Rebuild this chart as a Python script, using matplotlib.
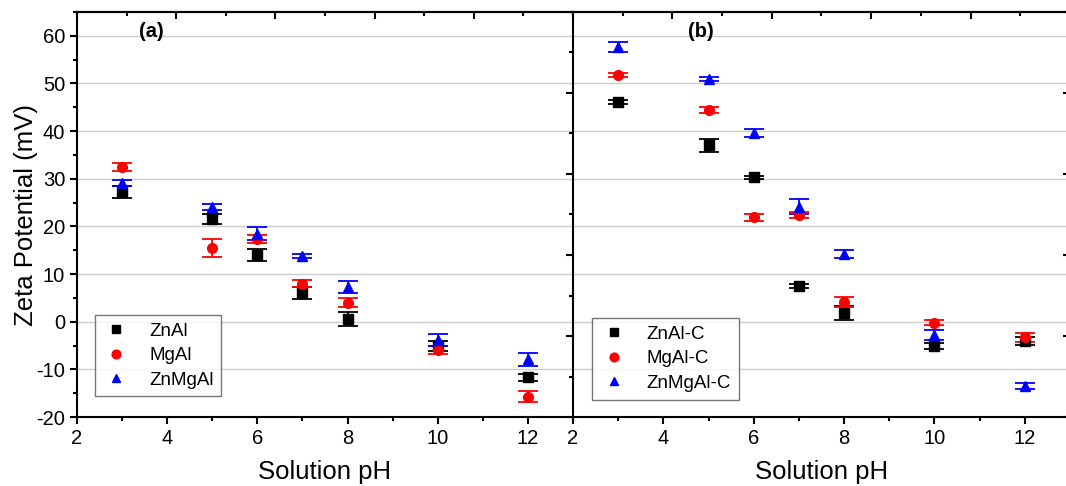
import matplotlib
matplotlib.use("Agg")
import matplotlib.pyplot as plt
import numpy as np

plt.rcParams['font.family'] = ['Liberation Sans', 'DejaVu Sans']
plt.rcParams['axes.unicode_minus'] = False

ph = [3, 5, 6, 7, 8, 10, 12]

# Panel (a)
znal = [27.2, 21.5, 14.0, 6.0, 0.5, -5.1, -11.7]
znal_err = [1.2, 1.0, 1.2, 1.3, 1.5, 1.0, 0.8]
mgal = [32.5, 15.4, 17.4, 8.0, 4.0, -5.9, -15.7]
mgal_err = [0.8, 1.9, 0.8, 0.7, 1.0, 0.8, 1.2]
znmgal = [29.1, 24.0, 18.5, 13.8, 7.3, -3.8, -7.9]
znmgal_err = [0.7, 0.6, 1.3, 0.5, 1.2, 1.3, 1.3]

# Panel (b)
znalc = [46.1, 37.0, 30.3, 7.5, 1.8, -5.1, -4.0]
znalc_err = [0.5, 1.3, 0.3, 0.5, 1.4, 0.6, 0.8]
mgalc = [51.7, 44.4, 21.9, 22.4, 4.1, -0.2, -3.3]
mgalc_err = [0.4, 0.7, 0.8, 0.6, 1.0, 0.5, 1.0]
znmgalc = [57.6, 51.0, 39.6, 24.1, 14.2, -2.8, -13.5]
znmgalc_err = [1.0, 0.4, 0.9, 1.6, 0.8, 1.0, 0.7]

W, H = 1066, 486
fig = plt.figure(figsize=(W / 100, H / 100), dpi=100)

def px(x0, y0, x1, y1):
    return [x0 / W, 1 - y1 / H, (x1 - x0) / W, (y1 - y0) / H]

ax1 = fig.add_axes(px(77, 12, 573, 417))
ax2 = fig.add_axes(px(573, 12, 1070, 417))

xmaj = [2, 4, 6, 8, 10, 12]
xmin_ = [3, 5, 7, 9, 11, 13]
top_maj = [2 + 2.2 * k for k in range(6)]
top_min = [3.1 + 2.2 * k for k in range(5)]
yb_maj = [-20 + 17 * k for k in range(6)]
yb_min = [-11.5 + 17 * k for k in range(5)]

def style(ax):
    ax.set_xlim(2, 13)
    ax.set_ylim(-20, 65)
    for s in ax.spines.values():
        s.set_linewidth(1.5)
        s.set_color('black')
    for y in range(-10, 70, 10):
        ax.axhline(y, color='#cccccc', lw=1.0, zorder=0)
    ax.set_xticks(xmaj)
    ax.set_xticks(xmin_, minor=True)
    ax.tick_params(axis='x', which='both', direction='out', top=False, labelsize=14.5)
    ax.tick_params(axis='x', which='major', length=5, width=1.5)
    ax.tick_params(axis='x', which='minor', length=3, width=1.5)
    ax.set_xlabel('Solution pH', fontsize=18.5, labelpad=9)
    sec = ax.secondary_xaxis('top')
    sec.set_xticks(top_maj)
    sec.set_xticks(top_min, minor=True)
    sec.tick_params(which='both', direction='in', labeltop=False, width=1.5)
    sec.tick_params(which='major', length=5)
    sec.tick_params(which='minor', length=3)
    sec.spines['top'].set_linewidth(1.5)

style(ax1)
style(ax2)

# left axis of (a)
ax1.set_yticks(range(-20, 61, 10))
ax1.set_yticks(range(-15, 66, 10), minor=True)
ax1.tick_params(axis='y', which='both', direction='out', right=False, labelsize=14.5, width=1.5)
ax1.tick_params(axis='y', which='major', length=5)
ax1.tick_params(axis='y', which='minor', length=3)
ax1.set_ylabel('Zeta Potential (mV)', fontsize=18.5, labelpad=-1)
ax1.spines['right'].set_visible(False)

# panel (b) y axes (no labels)
ax2.set_yticks(yb_maj)
ax2.set_yticks(yb_min, minor=True)
ax2.tick_params(axis='y', which='both', direction='out', labelleft=False, right=False, width=1.5)
ax2.tick_params(axis='y', which='major', length=5)
ax2.tick_params(axis='y', which='minor', length=3)
sy = ax2.secondary_yaxis('right')
sy.set_yticks(yb_maj)
sy.set_yticks([], minor=True)
sy.tick_params(which='both', direction='in', labelright=False, width=1.5, length=5)

ekw = dict(linestyle='none', capsize=7, elinewidth=1.3, capthick=1.3, markersize=7)

ax1.errorbar(ph, znal, yerr=znal_err, fmt='s', color='black', label='ZnAl', **ekw)
ax1.errorbar(ph, mgal, yerr=mgal_err, fmt='o', color='red', label='MgAl', **ekw)
ax1.errorbar(ph, znmgal, yerr=znmgal_err, fmt='^', color='blue', label='ZnMgAl', **ekw)

ax2.errorbar(ph, znalc, yerr=znalc_err, fmt='s', color='black', label='ZnAl-C', **ekw)
ax2.errorbar(ph, mgalc, yerr=mgalc_err, fmt='o', color='red', label='MgAl-C', **ekw)
ax2.errorbar(ph, znmgalc, yerr=znmgalc_err, fmt='^', color='blue', label='ZnMgAl-C', **ekw)

for ax, loc in ((ax1, (0.017, 0.028)), (ax2, (0.02, 0.02))):
    h, l = ax.get_legend_handles_labels()
    h = [x[0] for x in h]
    leg = ax.legend(h, l, loc='lower left', bbox_to_anchor=loc, fontsize=13.5,
                    frameon=True, fancybox=False, edgecolor='#555555',
                    handletextpad=1.0, borderpad=0.4, labelspacing=0.4,
                    markerscale=0.9, handlelength=1.5)
    leg.get_frame().set_linewidth(1.0)

ax1.text(0.15, 0.975, '(a)', transform=ax1.transAxes, fontsize=14.5, fontweight='bold',
         ha='center', va='top')
ax2.text(0.258, 0.975, '(b)', transform=ax2.transAxes, fontsize=14.5, fontweight='bold',
         ha='center', va='top')

fig.savefig('out.png', dpi=100)
